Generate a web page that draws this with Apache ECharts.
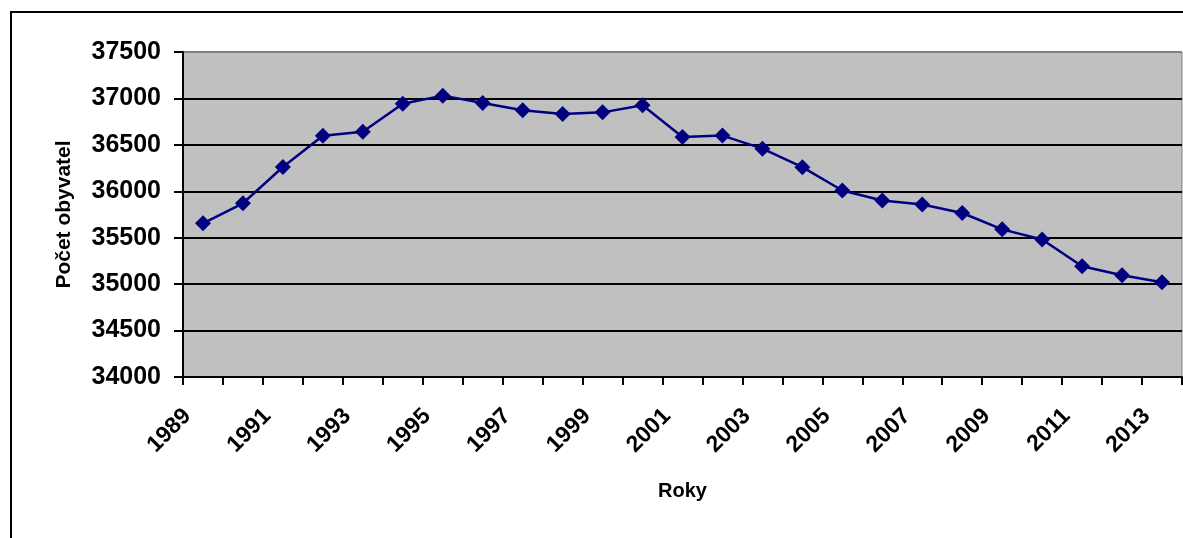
<!DOCTYPE html>
<html>
<head>
<meta charset="utf-8">
<script src="https://cdn.jsdelivr.net/npm/echarts@6/dist/echarts.min.js"></script>
<style>
html,body{margin:0;padding:0;background:#fff;}
#chart{width:1183px;height:538px;}
</style>
</head>
<body>
<div id="chart"></div>
<script>
const years = ['1989','1990','1991','1992','1993','1994','1995','1996','1997','1998','1999','2000','2001','2002','2003','2004','2005','2006','2007','2008','2009','2010','2011','2012','2013'];
const population = [35655,35871,36261,36599,36642,36943,37030,36951,36872,36832,36850,36926,36585,36600,36459,36260,36008,35900,35857,35766,35590,35481,35192,35095,35020];
const yAxisTitle = 'Počet obyvatel';
const xAxisTitle = 'Roky';
const yMin = 34000, yMax = 37500, yStep = 500;

const FONT = '"Liberation Sans", Arial, sans-serif';
const chart = echarts.init(document.getElementById('chart'), null, {renderer:'canvas'});
chart.setOption({
  animation: false,
  backgroundColor: '#ffffff',
  graphic: [{
    type: 'rect', z: 100, silent: true,
    shape: {x: 11, y: 12, width: 1300, height: 700},
    style: {fill: 'none', stroke: '#000', lineWidth: 2}
  }],
  grid: {
    left: 183, right: 1, top: 52, bottom: 161,
    show: true, backgroundColor: '#c0c0c0', borderColor: '#808080', borderWidth: 1,
    containLabel: false, outerBoundsMode: 'none'
  },
  xAxis: {
    type: 'category', data: years, boundaryGap: true,
    name: xAxisTitle, nameLocation: 'middle', nameGap: 104, nameMoveOverlap: false,
    nameTextStyle: {fontFamily: FONT, fontWeight: 'bold', fontSize: 20, color: '#000'},
    axisLine: {show: true, lineStyle: {color: '#000', width: 2}},
    axisTick: {show: true, interval: 0, length: 8, lineStyle: {color: '#000', width: 2}},
    axisLabel: {interval: 1, rotate: 45, margin: 20, padding: [0, 22, 0, 0],
      fontFamily: FONT, fontWeight: 'bold', fontSize: 23, color: '#000'},
    splitLine: {show: false}
  },
  yAxis: {
    type: 'value', min: yMin, max: yMax, interval: yStep,
    name: yAxisTitle, nameLocation: 'middle', nameGap: 108, nameMoveOverlap: false,
    nameTextStyle: {fontFamily: FONT, fontWeight: 'bold', fontSize: 21, color: '#000'},
    axisLine: {show: true, lineStyle: {color: '#000', width: 2}},
    axisTick: {show: true, length: 9, lineStyle: {color: '#000', width: 2}},
    axisLabel: {margin: 22, fontFamily: FONT, fontWeight: 'bold', fontSize: 25, color: '#000',
      formatter: function (v) { return String(v); }},
    splitLine: {show: true, lineStyle: {color: ['#000','#000','#000','#000','#000','#000','#000','#808080'], width: 2}}
  },
  series: [{
    type: 'line', data: population,
    symbol: 'diamond', symbolSize: 16,
    itemStyle: {color: '#000080'},
    lineStyle: {color: '#000080', width: 2.5}
  }]
});
</script>
</body>
</html>
